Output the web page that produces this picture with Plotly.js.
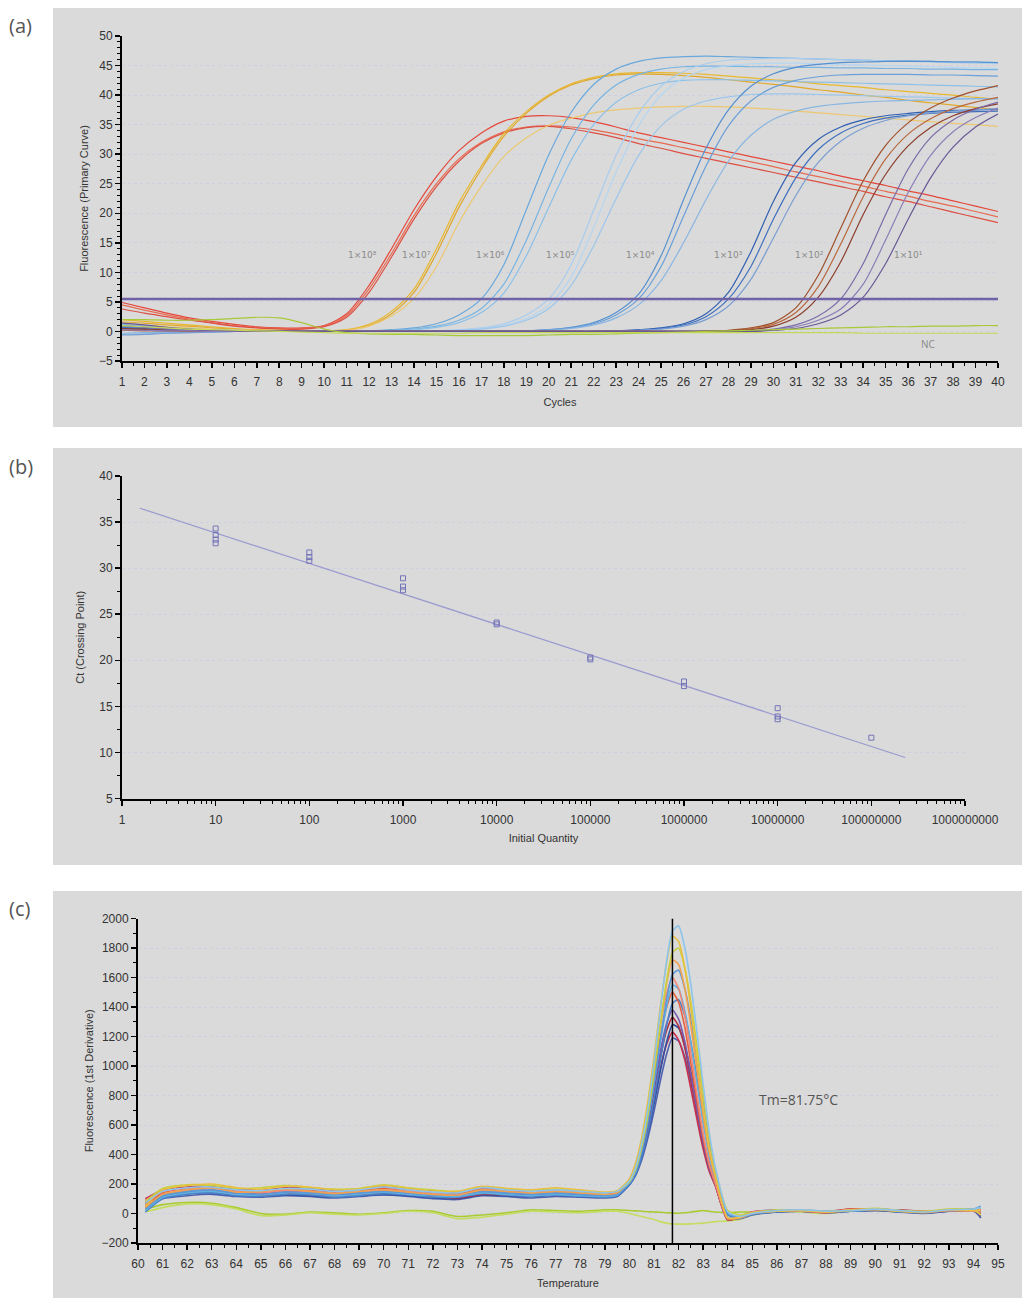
<!DOCTYPE html>
<html>
<head>
<meta charset="utf-8">
<script src="https://cdn.plot.ly/plotly-3.0.1.min.js"></script>
<style>html,body{margin:0;padding:0;background:#fff}#chart{width:1024px;height:1298px}</style>
</head>
<body>
<div id="chart"></div>
<script>
// ---------------- Panel (a): amplification curves ----------------
const cycles = [1,2,3,4,5,6,7,8,9,10,11,12,13,14,15,16,17,18,19,20,21,22,23,24,25,26,27,28,29,30,31,32,33,34,35,36,37,38,39,40];

const amp1e8_a = [4.9,4.0,3.1,2.3,1.7,1.2,0.8,0.6,0.6,1.0,3.0,7.8,14.0,20.6,26.2,30.6,33.6,35.6,36.4,36.5,36.2,35.5,34.6,33.6,32.8,32.0,31.2,30.4,29.6,28.8,28.0,27.2,26.3,25.5,24.7,23.8,23.0,22.1,21.2,20.3];
const amp1e8_b = [4.5,3.6,2.8,2.1,1.5,1.0,0.7,0.5,0.5,0.9,2.7,7.2,13.2,19.6,25.0,29.2,32.0,33.8,34.6,34.8,34.6,34.1,33.4,32.6,31.9,31.1,30.3,29.5,28.7,27.9,27.0,26.2,25.4,24.6,23.7,22.9,22.0,21.2,20.3,19.4];
const amp1e8_c = [3.8,3.1,2.5,1.9,1.4,0.9,0.6,0.4,0.4,0.8,2.4,6.6,12.6,19.0,24.5,28.8,31.8,33.6,34.5,34.7,34.3,33.6,32.8,31.8,31.0,30.1,29.3,28.5,27.7,26.9,26.1,25.3,24.5,23.7,22.8,22.0,21.1,20.2,19.3,18.4];

const amp1e7_a = [2.0,1.7,1.4,1.1,0.8,0.5,0.3,0.2,0.1,0.1,0.3,1.2,3.4,7.2,14.0,21.8,28.0,33.5,37.2,40.0,41.9,43.0,43.6,43.8,43.8,43.7,43.5,43.2,42.9,42.6,42.3,41.9,41.6,41.3,40.9,40.6,40.3,40.0,39.6,39.3];
const amp1e7_b = [1.6,1.4,1.1,0.9,0.6,0.4,0.2,0.1,0.1,0.1,0.2,1.0,3.0,6.6,13.2,21.0,27.5,33.0,36.9,39.8,41.7,42.8,43.4,43.6,43.5,43.3,43.0,42.6,42.2,41.8,41.4,40.9,40.5,40.0,39.6,39.1,38.7,38.3,37.9,37.5];
const amp1e7_c = [1.2,1.0,0.8,0.6,0.4,0.3,0.2,0.1,0.0,0.0,0.2,0.9,2.6,5.6,11.0,18.4,24.6,29.6,32.8,34.9,36.1,37.0,37.5,37.8,38.0,38.1,38.1,38.0,37.8,37.6,37.3,37.0,36.7,36.4,36.1,35.8,35.5,35.2,35.0,34.7];

const amp1e6_a = [0.8,0.6,0.4,0.3,0.2,0.1,0.1,0.0,0.0,0.0,0.0,0.1,0.3,0.6,1.3,2.8,5.5,11.3,20.6,29.9,37.1,41.8,44.4,45.7,46.3,46.5,46.6,46.5,46.4,46.3,46.2,46.1,46.0,45.9,45.8,45.8,45.7,45.6,45.6,45.5];
const amp1e6_b = [1.2,0.9,0.6,0.4,0.3,0.2,0.1,0.1,0.0,0.0,0.0,0.1,0.2,0.4,0.9,1.9,3.9,8.0,15.4,24.4,32.6,38.3,41.7,43.5,44.4,44.8,44.9,44.9,44.8,44.8,44.7,44.7,44.6,44.6,44.5,44.5,44.4,44.4,44.3,44.3];
const amp1e6_c = [-0.5,-0.4,-0.3,-0.2,-0.1,0.0,0.0,0.0,0.0,0.0,0.0,0.0,0.1,0.3,0.7,1.5,3.2,6.5,12.8,21.0,29.0,35.0,38.8,40.9,42.0,42.5,42.6,42.6,42.5,42.4,42.3,42.2,42.1,42.0,41.9,41.8,41.7,41.6,41.5,41.4];

const amp1e5_a = [0.5,0.4,0.3,0.2,0.1,0.1,0.0,0.0,0.0,0.0,0.0,0.0,0.0,0.0,0.1,0.3,0.6,1.3,2.8,5.5,11.3,20.5,29.8,36.9,41.5,44.0,45.3,45.9,46.1,46.2,46.2,46.1,46.0,45.9,45.8,45.7,45.6,45.5,45.4,45.3];
const amp1e5_b = [0.9,0.7,0.5,0.3,0.2,0.1,0.1,0.0,0.0,0.0,0.0,0.0,0.0,0.0,0.1,0.2,0.5,1.0,2.2,4.5,9.2,17.6,27.0,34.8,40.0,42.9,44.3,45.0,45.3,45.4,45.4,45.3,45.2,45.1,45.0,44.9,44.8,44.7,44.6,44.5];
const amp1e5_c = [0.2,0.2,0.1,0.1,0.0,0.0,0.0,0.0,0.0,0.0,0.0,0.0,0.0,0.0,0.1,0.2,0.4,0.9,1.9,3.9,7.8,14.5,22.5,29.8,34.8,37.6,39.0,39.7,40.1,40.2,40.2,40.1,40.0,39.9,39.8,39.7,39.6,39.5,39.4,39.3];

const amp1e4_a = [0.6,0.5,0.3,0.2,0.1,0.1,0.0,0.0,0.0,0.0,0.0,0.0,0.0,0.0,0.0,0.0,0.0,0.1,0.1,0.3,0.7,1.5,3.2,6.3,12.8,22.3,31.0,37.5,41.5,43.6,44.7,45.2,45.5,45.6,45.7,45.7,45.7,45.6,45.6,45.5];
const amp1e4_b = [1.0,0.8,0.5,0.3,0.2,0.1,0.1,0.0,0.0,0.0,0.0,0.0,0.0,0.0,0.0,0.0,0.0,0.0,0.1,0.3,0.6,1.3,2.8,5.5,11.0,19.5,28.0,34.8,39.0,41.3,42.5,43.1,43.4,43.5,43.5,43.5,43.4,43.4,43.3,43.2];
const amp1e4_c = [-0.3,-0.2,-0.2,-0.1,-0.1,0.0,0.0,0.0,0.0,0.0,0.0,0.0,0.0,0.0,0.0,0.0,0.0,0.0,0.1,0.2,0.5,1.1,2.3,4.5,8.6,15.0,22.3,28.8,33.2,35.9,37.3,38.1,38.5,38.8,39.0,39.1,39.2,39.3,39.4,39.4];

const amp1e3_a = [0.3,0.2,0.1,0.1,0.0,0.0,0.0,0.0,0.0,0.0,0.0,0.0,0.0,0.0,0.0,0.0,0.0,0.0,0.0,0.0,0.0,0.0,0.1,0.3,0.6,1.3,3.0,6.6,13.5,22.0,28.6,32.5,34.6,35.8,36.5,36.9,37.2,37.4,37.5,37.6];
const amp1e3_b = [0.7,0.5,0.3,0.2,0.1,0.0,0.0,0.0,0.0,0.0,0.0,0.0,0.0,0.0,0.0,0.0,0.0,0.0,0.0,0.0,0.0,0.0,0.1,0.2,0.5,1.1,2.5,5.5,11.0,19.0,26.0,30.8,33.6,35.2,36.1,36.6,36.9,37.1,37.2,37.3];
const amp1e3_c = [-0.6,-0.5,-0.3,-0.2,-0.1,0.0,0.0,0.0,0.0,0.0,0.0,0.0,0.0,0.0,0.0,0.0,0.0,0.0,0.0,0.0,0.0,0.0,0.1,0.2,0.4,0.9,2.0,4.3,8.8,15.8,23.0,28.6,32.2,34.4,35.7,36.5,37.0,37.3,37.5,37.7];

const amp1e2_a = [0.4,0.3,0.2,0.1,0.0,0.0,0.0,0.0,0.0,0.0,0.0,0.0,0.0,0.0,0.0,0.0,0.0,0.0,0.0,0.0,0.0,0.0,0.0,0.0,0.0,0.0,0.1,0.2,0.6,1.5,4.0,9.5,17.5,25.5,31.5,35.3,37.8,39.5,40.7,41.6];
const amp1e2_b = [0.2,0.1,0.1,0.0,0.0,0.0,0.0,0.0,0.0,0.0,0.0,0.0,0.0,0.0,0.0,0.0,0.0,0.0,0.0,0.0,0.0,0.0,0.0,0.0,0.0,0.0,0.0,0.1,0.5,1.2,3.2,7.6,14.8,22.8,29.2,33.4,36.0,37.7,38.8,39.6];
const amp1e2_c = [0.5,0.4,0.2,0.1,0.0,0.0,0.0,0.0,0.0,0.0,0.0,0.0,0.0,0.0,0.0,0.0,0.0,0.0,0.0,0.0,0.0,0.0,0.0,0.0,0.0,0.0,0.0,0.1,0.3,0.9,2.4,5.8,11.8,19.8,26.6,31.4,34.5,36.5,37.7,38.5];

const amp1e1_a = [0.9,0.7,0.4,0.2,0.1,0.0,0.0,0.0,0.0,0.0,0.0,0.0,0.0,0.0,0.0,0.0,0.0,0.0,0.0,0.0,0.0,0.0,0.0,0.0,0.0,0.0,0.0,0.0,0.1,0.4,1.1,2.6,5.5,11.5,19.8,27.5,32.8,35.8,37.6,38.8];
const amp1e1_b = [0.3,0.2,0.1,0.1,0.0,0.0,0.0,0.0,0.0,0.0,0.0,0.0,0.0,0.0,0.0,0.0,0.0,0.0,0.0,0.0,0.0,0.0,0.0,0.0,0.0,0.0,0.0,0.0,0.0,0.3,0.8,1.9,3.8,8.0,15.5,23.5,29.8,33.8,36.2,37.8];
const amp1e1_c = [1.4,1.1,0.7,0.4,0.2,0.1,0.0,0.0,0.0,0.0,0.0,0.0,0.0,0.0,0.0,0.0,0.0,0.0,0.0,0.0,0.0,0.0,0.0,0.0,0.0,0.0,0.0,0.0,0.0,0.2,0.5,1.3,2.8,5.8,11.5,19.0,26.0,31.2,34.6,36.8];

const ampNC_a = [2.0,2.0,1.9,1.9,2.0,2.2,2.4,2.3,1.5,0.4,-0.2,-0.4,-0.5,-0.5,-0.6,-0.7,-0.7,-0.7,-0.7,-0.6,-0.5,-0.5,-0.4,-0.3,-0.2,-0.1,0.0,0.1,0.2,0.3,0.4,0.5,0.6,0.7,0.8,0.8,0.9,0.9,1.0,1.0];
const ampNC_b = [1.0,0.8,0.6,0.4,0.3,0.2,0.1,0.0,-0.1,-0.2,-0.3,-0.3,-0.3,-0.3,-0.3,-0.3,-0.2,-0.2,-0.2,-0.2,-0.2,-0.2,-0.2,-0.2,-0.2,-0.2,-0.2,-0.2,-0.2,-0.2,-0.2,-0.2,-0.2,-0.3,-0.3,-0.3,-0.3,-0.3,-0.3,-0.3];

const threshold = 5.5;
const dilutionLabels = ['1×10⁸','1×10⁷','1×10⁶','1×10⁵','1×10⁴','1×10³','1×10²','1×10¹'];
const dilutionLabelCycle = [11.7, 14.1, 17.4, 20.5, 24.1, 28.0, 31.6, 36.0];
const dilutionLabelValue = 12.9;

// ---------------- Panel (b): standard curve ----------------
const initialQuantity = [10,10,10,10,100,100,100,1000,1000,1000,10000,10000,100000,100000,1000000,1000000,10000000,10000000,10000000,100000000];
const crossingPoint   = [34.3,33.6,33.1,32.7,31.7,31.2,30.8,28.9,28.0,27.6,24.1,23.9,20.3,20.1,17.7,17.2,14.8,13.9,13.6,11.6];
const fitQuantity = [1.55, 230000000];
const fitCt = [36.5, 9.45];
const quantityTicks = [1,10,100,1000,10000,100000,1000000,10000000,100000000,1000000000];
const quantityTickText = ['1','10','100','1000','10000','100000','1000000','10000000','100000000','1000000000'];

// ---------------- Panel (c): melting curves ----------------
const meltTemp = [60.3,61,62,63,64,65,66,67,68,69,70,71,72,73,74,75,76,77,78,79,79.5,80,80.25,80.5,80.75,81,81.25,81.5,81.75,82,82.25,82.5,82.75,83,83.25,83.5,84,84.5,85,86,87,88,89,90,91,92,93,94,94.3];

const melt01 = [70,150,175,180,160,155,170,165,150,160,180,160,145,140,175,160,150,160,150,140,150, 221,312,476,712,1022,1368,1695,1914,1950,1804,1550,1222,876,549,312, 10,-20,0,20,25,15,20,30,20,10,25,30,40];
const melt02 = [50,160,190,200,175,165,185,180,160,165,190,170,150,150,185,170,160,175,160,145,155, 235,340,515,760,1058,1390,1688,1880,1845,1670,1390,1058,725,445,253, -30,-25,5,15,20,10,25,30,15,10,25,20,20];
const melt03 = [80,170,195,190,170,175,190,175,165,170,195,175,160,150,180,165,155,165,150,140,150, 214,297,447,664,948,1266,1566,1767,1800,1666,1433,1132,815,514,297, 20,-10,5,25,20,15,20,35,20,15,30,25,-10];
const melt04 = [40,130,160,175,145,150,165,150,135,150,160,145,130,125,160,150,140,150,140,130,140, 225,321,480,702,973,1275,1545,1720,1688,1529,1275,973,671,416,241, -30,-30,0,15,25,10,20,25,15,5,20,20,30];
const melt05 = [30,120,150,160,140,130,145,140,130,140,150,140,125,125,150,140,130,140,130,120,130, 206,282,419,616,875,1164,1437,1620,1650,1528,1316,1042,753,480,282, 0,-25,-5,20,20,15,15,25,20,10,25,30,50];
const melt06 = [90,150,170,160,150,140,155,150,135,145,160,150,135,125,155,145,135,145,135,125,135, 233,336,498,718,983,1262,1482,1600,1527,1350,1086,806,542,336,204, -35,-20,10,20,15,10,25,30,20,15,20,15,10];
const melt07 = [20,110,140,150,130,125,140,135,120,130,145,130,120,115,140,130,120,130,120,115,125, 215,300,442,641,883,1152,1394,1550,1522,1380,1152,883,613,386,229, -25,-30,0,15,25,15,20,30,15,10,20,25,35];
const melt08 = [60,140,170,175,155,150,165,160,145,155,170,155,140,135,165,155,145,155,145,135,145, 226,322,473,678,925,1185,1390,1500,1432,1267,1021,760,514,322,199, -40,-25,5,20,20,5,30,25,15,10,25,20,0];
const melt09 = [10,100,130,140,120,115,130,125,110,120,135,125,110,110,135,125,115,125,115,110,120, 196,262,381,552,777,1028,1265,1424,1450,1344,1160,922,671,434,262, -10,-30,-5,10,20,10,15,25,10,5,20,25,20];
const melt10 = [80,130,150,155,140,135,150,140,125,135,150,135,120,110,140,135,125,135,125,120,130, 218,305,443,630,855,1093,1280,1380,1318,1168,943,705,480,305,193, -40,-20,10,25,15,5,20,30,20,10,15,20,-20];
const melt11 = [70,120,145,150,135,120,135,130,120,130,140,130,115,105,130,125,120,130,120,115,125, 214,298,430,610,826,1054,1234,1330,1270,1126,910,682,466,298,190, -45,-25,5,15,20,15,30,25,25,15,20,25,15];
const melt12 = [50,110,135,140,120,115,125,120,110,120,130,120,105,100,125,120,115,125,115,110,120, 199,268,383,544,740,958,1154,1280,1257,1142,958,740,521,337,211, -30,-30,-5,10,15,10,15,20,15,5,15,20,-30];
const melt13 = [100,160,180,185,165,160,175,170,155,165,180,165,150,140,170,160,150,160,150,140,145, 207,284,405,570,768,977,1142,1230,1175,1043,845,636,438,284,185, -40,-20,10,20,20,10,25,30,20,10,25,30,25];
const melt14 = [40,100,120,130,115,110,120,115,105,115,125,115,100,95,120,115,105,115,110,105,115, 194,257,363,512,692,893,1073,1190,1169,1063,893,692,490,321,204, -30,-35,-10,10,15,5,15,20,10,0,15,15,5];
const meltNC_a = [30,60,75,70,40,0,-5,10,5,-5,5,20,15,-20,-10,5,25,20,15,25,25, 20,18,15,12,10,8,5,3,2,5,10,15,20,15,10, 5,10,10,20,15,5,20,25,15,10,20,20,0];
const meltNC_b = [10,40,65,60,30,-15,-10,5,-5,-10,0,15,5,-35,-25,-5,15,10,5,15,15, 0,-10,-20,-30,-40,-55,-65,-70,-72,-72,-70,-68,-65,-60,-55, -50,-40,-10,15,10,0,15,20,10,5,15,15,-10];
const Tm = 81.75;

// ---------------- Build traces ----------------
const ampSeries = [
  [amp1e8_a,'#e4483c'],[amp1e8_b,'#e86a50'],[amp1e8_c,'#dd5044'],
  [amp1e7_a,'#e8b830'],[amp1e7_b,'#e0a82c'],[amp1e7_c,'#ecc870'],
  [amp1e6_a,'#6aa8dc'],[amp1e6_b,'#78b4e2'],[amp1e6_c,'#8cc0e8'],
  [amp1e5_a,'#a8cdef'],[amp1e5_b,'#b4d6f2'],[amp1e5_c,'#9cc6ea'],
  [amp1e4_a,'#5590d0'],[amp1e4_b,'#6a9fd8'],[amp1e4_c,'#8ab6e2'],
  [amp1e3_a,'#2f5fb0'],[amp1e3_b,'#3f70be'],[amp1e3_c,'#7a9ed2'],
  [amp1e2_a,'#a0502a'],[amp1e2_b,'#b8683c'],[amp1e2_c,'#8c3c2c'],
  [amp1e1_a,'#7a6aa8'],[amp1e1_b,'#8c7eb8'],[amp1e1_c,'#6a5896'],
  [ampNC_a,'#a8c838'],[ampNC_b,'#c4d858']
];
const traces = [];
ampSeries.forEach(([ys,col])=>{
  traces.push({type:'scatter',mode:'lines',x:cycles,y:ys,xaxis:'x',yaxis:'y',
    line:{color:col,width:1.2,shape:'spline',smoothing:0.8},hoverinfo:'skip'});
});
traces.push({type:'scatter',mode:'lines',x:[cycles[0],cycles[cycles.length-1]],y:[threshold,threshold],
  xaxis:'x',yaxis:'y',line:{color:'#7062a6',width:2.5},hoverinfo:'skip'});

traces.push({type:'scatter',mode:'lines',x:fitQuantity,y:fitCt,xaxis:'x2',yaxis:'y2',
  line:{color:'#9a9ad0',width:1.3},hoverinfo:'skip'});
traces.push({type:'scatter',mode:'markers',x:initialQuantity,y:crossingPoint,xaxis:'x2',yaxis:'y2',
  marker:{symbol:'square-open',size:5,color:'#7474b8',line:{width:1}},hoverinfo:'skip'});

const meltSeries = [
  [meltNC_a,'#a8cc30'],[meltNC_b,'#c4dc60'],
  [melt14,'#5060b0'],[melt13,'#c83050'],[melt12,'#3050a0'],[melt11,'#b03040'],[melt10,'#7a5ab0'],
  [melt09,'#4a80c8'],[melt08,'#e86040'],[melt07,'#60b0e0'],[melt06,'#f08878'],[melt05,'#5a9ad8'],
  [melt04,'#f0a050'],[melt03,'#c8d040'],[melt02,'#e8c040'],[melt01,'#8cc4ec']
];
meltSeries.forEach(([ys,col])=>{
  traces.push({type:'scatter',mode:'lines',x:meltTemp,y:ys,xaxis:'x3',yaxis:'y3',
    line:{color:col,width:1.6,shape:'spline',smoothing:0.6},hoverinfo:'skip'});
});
traces.push({type:'scatter',mode:'lines',x:[Tm,Tm],y:[-200,2000],xaxis:'x3',yaxis:'y3',
  line:{color:'#000',width:1.5},hoverinfo:'skip'});

// ---------------- Layout ----------------
const W = 1024, H = 1298;
const px = v => v / W;
const py = v => 1 - v / H;

const axisCommon = {
  showline:true, linecolor:'#000', linewidth:2, ticks:'outside', ticklen:5, tickwidth:1.5, tickcolor:'#000',
  zeroline:false, showgrid:false, automargin:false, fixedrange:true,
  tickfont:{family:'Liberation Sans, Arial, sans-serif', size:12, color:'#333'}
};
const gridY = {showgrid:true, gridcolor:'#cfcfe2', griddash:'dot', gridwidth:1};
const titleFont = {family:'Liberation Sans, Arial, sans-serif', size:11, color:'#333'};

const layout = {
  width:W, height:H, margin:{l:0,r:0,t:0,b:0},
  paper_bgcolor:'#ffffff', plot_bgcolor:'#ffffff', showlegend:false,
  font:{family:'Liberation Sans, Arial, sans-serif', size:12, color:'#333'},
  xaxis:Object.assign({}, axisCommon, {domain:[px(122),px(998)], anchor:'y', range:[1,40], tick0:1, dtick:1, ticklabelstandoff:4,
    minor:{ticks:'outside', ticklen:3, tickcolor:'#000', tickwidth:1, dtick:0.5, showgrid:false},
    title:{text:'Cycles', font:titleFont, standoff:10}}),
  yaxis:Object.assign({}, axisCommon, gridY, {domain:[py(361),py(36)], anchor:'x', range:[-5,50], dtick:5, tick0:0,
    minor:{ticks:'outside', ticklen:3, tickcolor:'#000', tickwidth:1, dtick:1, showgrid:false},
    title:{text:'Fluorescence (Primary Curve)', font:titleFont, standoff:8}}),
  xaxis2:Object.assign({}, axisCommon, {domain:[px(122),px(965)], anchor:'y2', type:'log', range:[0,9], ticklabelstandoff:4,
    tickmode:'array', tickvals:quantityTicks, ticktext:quantityTickText,
    minor:{ticks:'outside', ticklen:3, tickcolor:'#000', tickwidth:1, dtick:'D1', showgrid:false},
    title:{text:'Initial Quantity', font:titleFont, standoff:8}}),
  yaxis2:Object.assign({}, axisCommon, gridY, {domain:[py(798.5),py(476)], anchor:'x2', range:[5,40], dtick:5, tick0:0,
    minor:{ticks:'outside', ticklen:3, tickcolor:'#000', tickwidth:1, dtick:2.5, showgrid:false},
    title:{text:'Ct (Crossing Point)', font:titleFont, standoff:12}}),
  xaxis3:Object.assign({}, axisCommon, {domain:[px(138),px(998)], anchor:'y3', range:[60,95], tick0:60, dtick:1, ticklabelstandoff:4,
    minor:{ticks:'outside', ticklen:3, tickcolor:'#000', tickwidth:1, dtick:0.5, showgrid:false},
    title:{text:'Temperature', font:titleFont, standoff:9}}),
  yaxis3:Object.assign({}, axisCommon, gridY, {domain:[py(1243),py(918.5)], anchor:'x3', range:[-200,2000], dtick:200, tick0:0,
    minor:{ticks:'outside', ticklen:3, tickcolor:'#000', tickwidth:1, dtick:100, showgrid:false},
    title:{text:'Fluorescence (1st Derivative)', font:titleFont, standoff:6}}),
  shapes:[
    {type:'rect', xref:'paper', yref:'paper', x0:px(53), x1:px(1022), y0:py(427), y1:py(8), fillcolor:'#dadada', line:{width:0}, layer:'below'},
    {type:'rect', xref:'paper', yref:'paper', x0:px(53), x1:px(1022), y0:py(865), y1:py(448), fillcolor:'#dadada', line:{width:0}, layer:'below'},
    {type:'rect', xref:'paper', yref:'paper', x0:px(53), x1:px(1022), y0:0, y1:py(891), fillcolor:'#dadada', line:{width:0}, layer:'below'}
  ],
  annotations:[]
};

const panelFont = {family:'Open Sans, DejaVu Sans, sans-serif', size:20, color:'#555'};
[['(a)',25],['(b)',466],['(c)',908]].forEach(([t,yy])=>{
  layout.annotations.push({text:t, xref:'paper', yref:'paper', x:px(7), y:py(yy), xanchor:'left', yanchor:'middle', showarrow:false, font:panelFont});
});
dilutionLabels.forEach((t,i)=>{
  layout.annotations.push({text:t, xref:'x', yref:'y', x:dilutionLabelCycle[i], y:dilutionLabelValue, showarrow:false,
    font:{family:'DejaVu Sans, sans-serif', size:9, color:'#8a8a8a'}});
});
layout.annotations.push({text:'NC', xref:'x', yref:'y', x:36.9, y:-2.1, showarrow:false,
  font:{family:'Open Sans, DejaVu Sans, sans-serif', size:10, color:'#8a8a8a'}});
layout.annotations.push({text:'Tm=81.75°C', xref:'x3', yref:'y3', x:86.9, y:770, showarrow:false,
  font:{family:'Open Sans, DejaVu Sans, sans-serif', size:14, color:'#555'}});

Plotly.newPlot('chart', traces, layout, {staticPlot:true, displayModeBar:false});
</script>
</body>
</html>
